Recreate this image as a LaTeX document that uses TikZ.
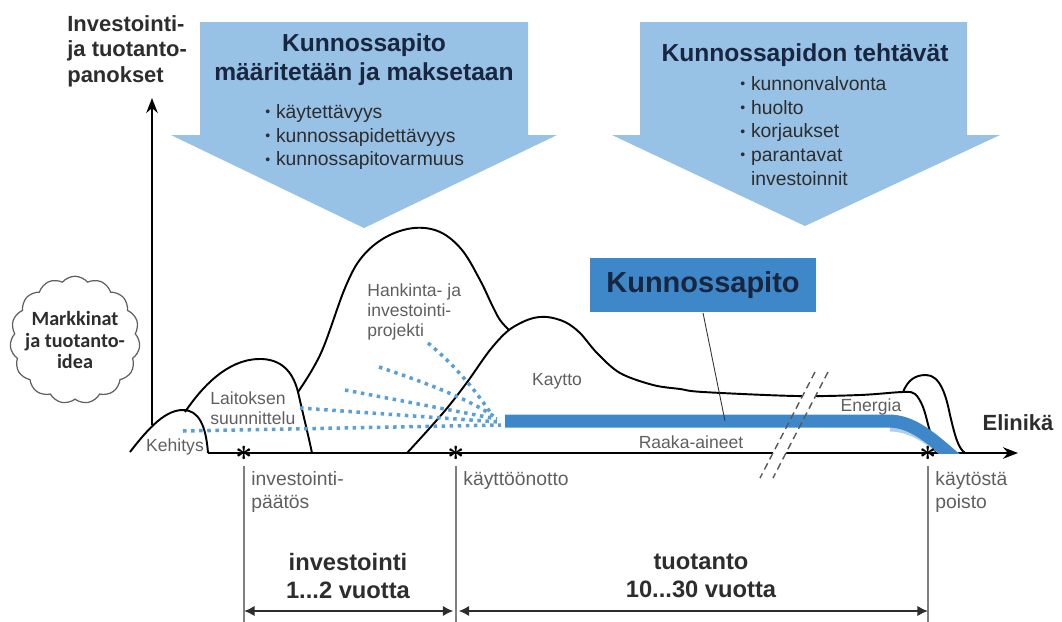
\documentclass[tikz,border=0pt]{standalone}
\usepackage{fontspec}
\setmainfont{Liberation Sans}
\newfontfamily\cloudfont{Carlito}
\usepackage{tikz}
\usetikzlibrary{arrows.meta, positioning, shapes.symbols, calc}

\definecolor{arrowblue}{RGB}{151,193,229}
\definecolor{bandblue}{RGB}{62,135,201}
\definecolor{dotblue}{RGB}{90,160,215}
\definecolor{navy}{RGB}{24,38,64}
\definecolor{textgray}{RGB}{95,95,95}
\definecolor{darkgray}{RGB}{45,45,45}

\newcommand{\bul}{\raisebox{0.15ex}{\fontsize{8}{8}\selectfont•}\hspace{0.3em}}

\begin{document}
\begin{tikzpicture}[x=0.02cm, y=-0.02cm, >=Stealth,
    hump/.style={line width=1.1pt, line join=round},
    axisline/.style={line width=1.3pt, -{Stealth[length=8.5pt, width=6.5pt]}},
    bigarrow/.style={fill=arrowblue},
    arrowtitle/.style={font=\fontsize{14}{16.5}\selectfont\bfseries, text=navy, align=center, inner sep=0pt},
    bulletlist/.style={font=\fontsize{11}{13.5}\selectfont, text=darkgray, align=left, anchor=north west, inner sep=0pt},
    phase/.style={font=\fontsize{10}{11.5}\selectfont, text=textgray, align=left, inner sep=0pt},
    event/.style={font=\fontsize{11}{13}\selectfont, text=textgray, align=left, anchor=north west, inner sep=0pt},
    flowdots/.style={dotblue, line width=2pt, dash pattern=on 2pt off 2.6pt},
    band/.style={bandblue, line width=7.4pt},
    starmark/.style={inner sep=0pt, font=\LARGE\boldmath},
    tickline/.style={gray, line width=0.6pt},
    spanarrow/.style={{Latex[length=6pt, width=6pt]}-{Latex[length=6pt, width=6pt]}, line width=1.4pt, darkgray},
    spantext/.style={font=\fontsize{13.5}{16}\selectfont\bfseries, text=darkgray, align=center, inner sep=0pt},
    breakline/.style={gray!70!black, line width=0.8pt, dash pattern=on 4pt off 2.5pt}]
    \useasboundingbox (0,0) rectangle (1062,622);

    % the two arrows from above
    \fill[bigarrow] (200,22) -- (528,22) -- (528,135) -- (557,135) -- (364,228) -- (171,135) -- (200,135) -- cycle;
    \fill[bigarrow] (640,22) -- (967,22) -- (967,135) -- (1000,135) -- (805,226) -- (612,135) -- (640,135) -- cycle;
    \node[arrowtitle] (defined) at (364,60) {Kunnossapito\\määritetään ja maksetaan};
    \node[bulletlist] (defitems) at (265,104) {\bul käytettävyys\\\bul kunnossapidettävyys\\\bul kunnossapitovarmuus};
    \node[arrowtitle] (tasks) at (805,55) {Kunnossapidon tehtävät};
    \node[bulletlist] (taskitems) at (740,76) {\bul kunnonvalvonta\\\bul huolto\\\bul korjaukset\\\bul parantavat\\\hphantom{\bul}investoinnit};

    \node[font=\fontsize{12.5}{14.5}\selectfont\bfseries, text=darkgray, align=left, anchor=north west, inner sep=0pt] (ylabel) at (67,15) {Investointi-\\ja tuotanto-\\panokset};
    \node[cloud, cloud puffs=15, cloud puff arc=100, aspect=1, draw=gray!75!black, fill=white, line width=0.7pt, minimum width=2.6cm, minimum height=2.55cm, inner sep=0pt] (idea) at (75,340) {};
    \node[font=\cloudfont\bfseries\fontsize{11.5}{12.5}\selectfont, text=darkgray, align=center, inner sep=0pt] (ideatext) at (idea.center) {Markkinat\\ja tuotanto-\\idea};

    % axes
    \coordinate (yfoot) at (152,425);
    \coordinate (ytop) at (152,98);
    \draw[axisline] (yfoot) -- (ytop);
    \coordinate (xstart) at (208,453);
    \coordinate (xend) at (1018,453);
    \draw[axisline] (xstart) -- (xend);

    % life cycle humps
    \draw[hump] (130,452) .. controls (150,426) and (166,410) .. (183,410) .. controls (199,410) and (206,426) .. (208,453);
    \draw[hump] (185,412) .. controls (208,378) and (234,358) .. (262,359) .. controls (285,360) and (294,376) .. (298,392) .. controls (303,414) and (308,434) .. (312,453);
    \draw[hump] plot[smooth, tension=0.6] coordinates {(298,392) (321,353) (345,288) (362,257) (386,237) (414,228) (440,232) (462,250) (480,280) (492,305) (500,320) (509,330)};
    \draw[hump] plot[smooth, tension=0.55] coordinates {(407,453) (428,430) (448,407) (468,381) (490,350) (509,330) (530,319) (547,317) (565,322) (580,333) (597,353) (620,373) (653,385) (680,389) (703,392) (796,396) (860,395) (903,392) (915,394) (923,407) (929,428) (936,453)};
    \draw[hump] (903,392) .. controls (908,380) and (915,375) .. (926,375) .. controls (940,375) and (946,395) .. (950,415) .. controls (955,436) and (958,448) .. (965,453);

    % break in the time axis
    \fill[white] (815,372) -- (828,372) -- (773,478) -- (760,478) -- cycle;

    % maintenance band
    \begin{scope}
        \clip (0,0) rectangle (1062,453);
        \draw[bandblue!40!white, line width=7.4pt] (890,425) .. controls (913,425) and (935,440) .. (968,470);
        \draw[band] (505,421) -- (888,421) .. controls (912,421) and (930,436) .. (965,468);
    \end{scope}
    \draw[flowdots] (183,431) -- (501,425);
    \draw[flowdots] (300,408) -- (499,422);
    \draw[flowdots] (345,390) -- (497,419);
    \draw[flowdots] (379,367) .. controls (430,384) and (470,400) .. (495,417);
    \draw[flowdots] (428,343) .. controls (458,368) and (478,394) .. (492,415);

    \draw[breakline] (815,372) -- (760,478);
    \draw[breakline] (828,372) -- (773,478);

    \node[fill=bandblue, minimum width=4.52cm, minimum height=1.1cm, font=\fontsize{16.5}{16.5}\selectfont\bfseries, text=navy] (upkeep) at (703,285) {Kunnossapito};
    \coordinate (bandhit) at (725,421);
    \draw[gray!40!black, line width=0.5pt] (upkeep.south) -- (bandhit);

    % phase labels
    \node[phase] (kehitys) at (175,447) {Kehitys};
    \node[phase, anchor=west] (design) at (210,408) {Laitoksen\\suunnittelu};
    \node[phase, anchor=west, font=\fontsize{10}{11.3}\selectfont] (project) at (367,312) {Hankinta- ja\\investointi-\\projekti};
    \node[phase] (use) at (557,381) {Kaytto};
    \node[phase] (energy) at (871,407) {Energia};
    \node[phase] (raw) at (691,442) {Raaka-aineet};
    \node[font=\fontsize{12.5}{14}\selectfont\bfseries, text=darkgray, inner sep=0pt] (lifetime) at (1018,423) {Elinikä};

    % events on the time axis
    \node[starmark] (decision) at (244,453) {$\ast$};
    \node[starmark] (startup) at (456,453) {$\ast$};
    \node[starmark] (retire) at (928,453) {$\ast$};
    \coordinate (decisionbot) at (244,622);
    \coordinate (startupbot) at (456,622);
    \coordinate (retirebot) at (928,622);
    \draw[tickline] ([yshift=-3pt]decision.south) -- (decisionbot);
    \draw[tickline] ([yshift=-3pt]startup.south) -- (startupbot);
    \draw[tickline] ([yshift=-3pt]retire.south) -- (retirebot);
    \node[event] (decisiontext) at (251,471) {investointi-\\päätös};
    \node[event] (startuptext) at (463,471) {käyttöönotto};
    \node[event] (retiretext) at (935,471) {käytöstä\\poisto};

    % durations
    \coordinate (spanA) at (244,611);
    \coordinate (spanB) at (456,611);
    \coordinate (spanC) at (928,611);
    \draw[spanarrow, shorten >=1.5pt] (spanA) -- (spanB);
    \draw[spanarrow, shorten <=1.5pt] (spanB) -- (spanC);
    \node[spantext] (invest) at (348,576) {investointi\\1...2 vuotta};
    \node[spantext] (prod) at (701,576) {tuotanto\\10...30 vuotta};
\end{tikzpicture}
\end{document}
